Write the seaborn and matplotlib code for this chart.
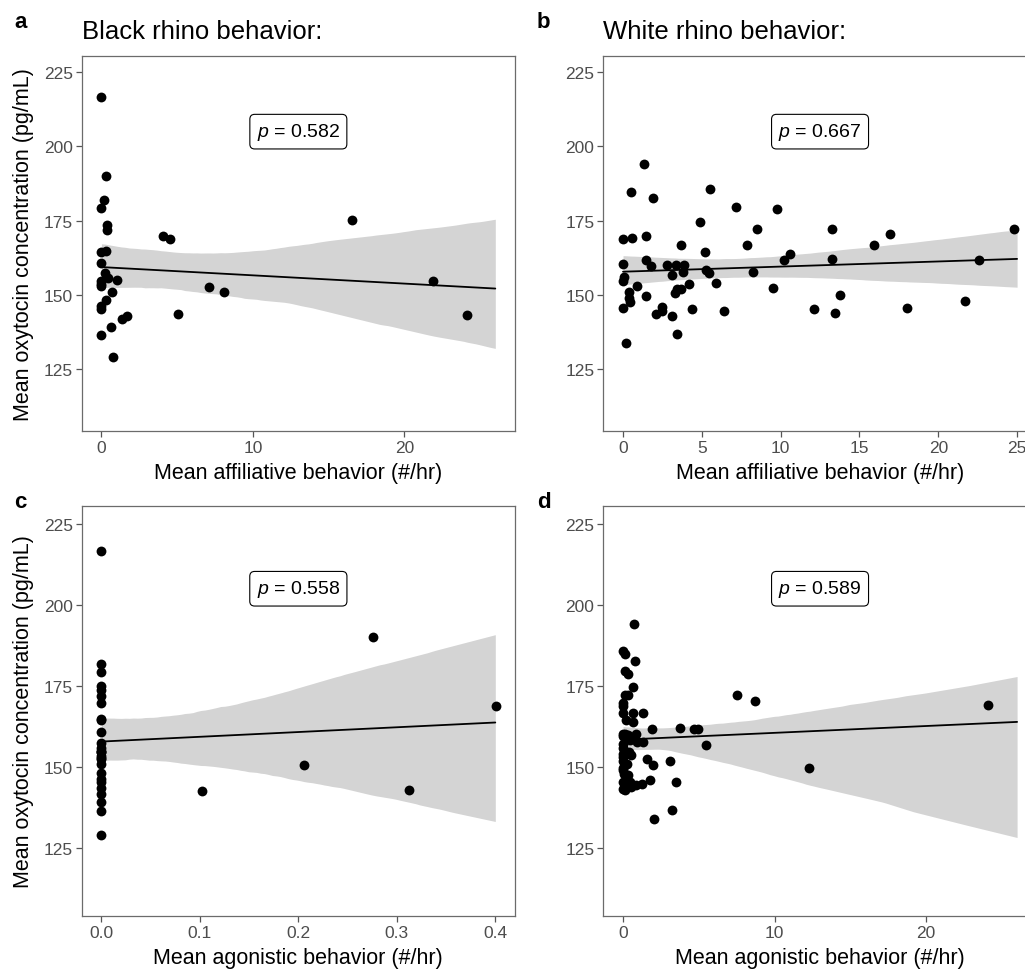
import pandas as pd
import matplotlib
matplotlib.use("Agg")
import matplotlib.pyplot as plt
import matplotlib.transforms as mtransforms
import seaborn as sns
from matplotlib.collections import PolyCollection
from matplotlib.ticker import FormatStrFormatter

# black rhinos: one row per animal
black_oxytocin = [216.6, 190.1, 181.8, 179.4, 173.7, 172.0, 164.4, 164.8, 160.7, 157.4,
                  155.8, 154.8, 153.5, 152.9, 155.1, 150.9, 148.1, 146.4, 145.3, 142.7,
                  141.7, 139.2, 136.6, 129.2, 169.7, 168.9, 143.5, 152.5, 150.8, 175.1,
                  154.7, 143.1]
black_affiliative = [0.0, 0.3, 0.2, 0.0, 0.4, 0.35, 0.0, 0.3, 0.0, 0.25,
                     0.45, 0.0, 0.0, 0.0, 1.03, 0.7, 0.3, 0.0, 0.0, 1.67,
                     1.36, 0.66, 0.0, 0.75, 4.08, 4.54, 5.05, 7.11, 8.08, 16.55,
                     21.87, 24.1]
black_agonistic = [0.0, 0.276, 0.0, 0.0, 0.0, 0.0, 0.0, 0.0, 0.0, 0.0,
                   0.0, 0.0, 0.0, 0.0, 0.0, 0.0, 0.0, 0.0, 0.0, 0.102,
                   0.0, 0.0, 0.0, 0.0, 0.0, 0.401, 0.0, 0.0, 0.206, 0.0,
                   0.0, 0.312]

# white rhinos
white_oxytocin = [194.2, 185.8, 184.8, 182.6, 179.6, 178.8, 174.7, 172.3, 172.2, 172.1,
                  170.5, 169.7, 169.3, 168.8, 166.7, 166.7, 166.8, 164.5, 163.8, 161.8,
                  162.2, 161.9, 161.8, 159.6, 160.3, 159.9, 160.1, 160.1, 156.8, 157.6,
                  158.4, 157.2, 157.7, 155.9, 154.8, 154.1, 153.7, 153.1, 152.4, 152.0,
                  152.0, 150.7, 150.9, 149.0, 147.5, 149.7, 149.8, 145.4, 145.9, 144.7,
                  143.4, 142.9, 145.3, 144.4, 145.3, 143.8, 145.4, 147.9, 136.9, 133.9]
white_affiliative = [1.33, 5.5, 0.49, 1.92, 7.19, 9.77, 4.86, 13.28, 24.81, 8.52,
                     16.92, 1.48, 0.57, 0.0, 3.7, 7.85, 15.9, 5.2, 10.58, 10.2,
                     13.28, 22.6, 1.48, 1.78, 0.0, 2.77, 3.36, 3.87, 3.09, 3.8,
                     5.24, 5.47, 8.25, 0.06, 0.0, 5.9, 4.21, 0.91, 9.5, 3.43,
                     3.7, 3.32, 0.36, 0.36, 0.42, 1.44, 13.79, 0.0, 2.47, 2.47,
                     2.1, 3.11, 4.36, 6.41, 12.12, 13.47, 18.0, 21.72, 3.4, 0.17]
white_agonistic = [0.73, 0.0, 0.1, 0.8, 0.15, 0.33, 0.66, 7.52, 0.1, 0.33,
                   8.68, 0.02, 24.07, 0.0, 0.0, 0.66, 1.32, 0.22, 0.66, 1.91,
                   3.78, 4.68, 4.95, 0.0, 0.0, 0.35, 0.85, 0.1, 5.45, 1.32,
                   0.45, 0.0, 0.9, 0.0, 0.4, 0.0, 0.55, 0.0, 1.6, 3.08,
                   0.0, 1.98, 0.25, 0.0, 0.3, 12.24, 0.0, 0.0, 1.76, 1.23,
                   0.0, 0.1, 3.52, 0.88, 0.45, 0.5, 0.2, 0.05, 3.21, 2.02]

p_values = ["0.582", "0.667", "0.558", "0.589"]
titles = ["Black rhino behavior:", "White rhino behavior:", "", ""]
x_labels = ["Mean affiliative behavior (#/hr)", "Mean affiliative behavior (#/hr)",
            "Mean agonistic behavior (#/hr)", "Mean agonistic behavior (#/hr)"]
y_ticks = [125, 150, 175, 200, 225]

black = pd.DataFrame({"oxytocin": black_oxytocin,
                      "affiliative": black_affiliative,
                      "agonistic": black_agonistic})
white = pd.DataFrame({"oxytocin": white_oxytocin,
                      "affiliative": white_affiliative,
                      "agonistic": white_agonistic})

sns.set_style("ticks")
plt.rcParams["font.family"] = ["Liberation Sans", "DejaVu Sans"]
plt.rcParams["text.color"] = "black"
plt.rcParams["axes.labelcolor"] = "black"
plt.rcParams["mathtext.fontset"] = "custom"
plt.rcParams["mathtext.it"] = "Liberation Sans:italic"
plt.rcParams["mathtext.rm"] = "Liberation Sans"

W, H = 1025, 970
fig = plt.figure(figsize=(W / 100, H / 100), dpi=100)

# letter, data, x column, line range, x limits, x ticks, axes box in pixels (l, t, r, b)
panels = [
    ("a", black, "affiliative", (0, 26), (-1.3, 27.3), [0, 10, 20], (81.7, 56.7, 515, 431.7)),
    ("b", white, "affiliative", (0, 25), (-1.25, 26.25), [0, 5, 10, 15, 20, 25], (603.3, 56.7, 1036.8, 431.7)),
    ("c", black, "agonistic", (0, 0.4), (-0.02, 0.42), [0, 0.1, 0.2, 0.3, 0.4], (81.7, 506.7, 515, 916.7)),
    ("d", white, "agonistic", (0, 26), (-1.3, 27.3), [0, 10, 20], (603.3, 506.7, 1036.8, 916.7)),
]

for i, (letter, df, xcol, fit_rng, xlim, xticks, box) in enumerate(panels):
    l, t, r, b = box
    ax = fig.add_axes([l / W, 1 - b / H, (r - l) / W, (b - t) / H])
    # line is drawn over fit_rng (truncate=False uses current xlim)
    ax.set_xlim(*fit_rng)
    sns.regplot(data=df, x=xcol, y="oxytocin", ax=ax, truncate=False,
                ci=95, n_boot=2000, seed=3, color="black",
                scatter_kws={"s": 50, "linewidths": 0, "alpha": 1},
                line_kws={"linewidth": 1.3})
    for coll in ax.collections:
        if isinstance(coll, PolyCollection):
            coll.set_alpha(0.17)
            coll.set_linewidth(0)

    ax.set_xlim(*xlim)
    ax.set_ylim(104.2, 230.6)
    ax.set_xticks(xticks)
    ax.set_yticks(y_ticks)
    if letter == "c":
        ax.xaxis.set_major_formatter(FormatStrFormatter("%.1f"))
    ax.tick_params(axis="both", which="major", direction="out", length=4, width=0.9,
                   bottom=True, left=True, top=False, right=False,
                   color="#555555", labelcolor="#4d4d4d", labelsize=12.5, pad=2.5)
    for s in ax.spines.values():
        s.set_visible(True)
        s.set_color("#6b6b6b")
        s.set_linewidth(0.9)

    ax.set_xlabel(x_labels[i], fontsize=15.5, labelpad=5)
    if i % 2 == 0:
        ax.set_ylabel("Mean oxytocin concentration (pg/mL)", fontsize=15.5, labelpad=7)
    else:
        ax.set_ylabel("")
    if titles[i]:
        ax.set_title(titles[i], loc="left", fontsize=18.5, pad=13, color="black")

    trans = mtransforms.blended_transform_factory(ax.transAxes, ax.transData)
    ax.text(0.5, 205, "$p$ = " + p_values[i], transform=trans,
            ha="center", va="center", fontsize=14,
            bbox=dict(boxstyle="round,pad=0.35,rounding_size=0.25",
                      fc="white", ec="black", lw=0.8))

    lx = 14 if i % 2 == 0 else 537
    ly = 28 if i < 2 else 508
    fig.text(lx / W, 1 - ly / H, letter, fontsize=16, fontweight="bold",
             va="baseline", ha="left")

fig.savefig("out.png", dpi=100)
